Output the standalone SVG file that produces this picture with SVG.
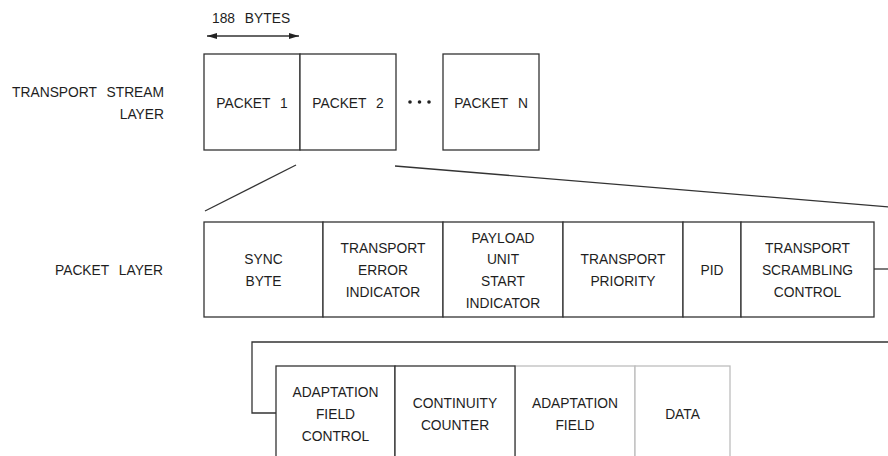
<svg xmlns="http://www.w3.org/2000/svg" width="888" height="456" viewBox="0 0 888 456">
  <style>
    text { font-family: "Liberation Sans", Arial, sans-serif; font-size: 13.8px; fill: #1e1e1e; word-spacing: 6px; }
    .c { text-anchor: middle; }
    .e { text-anchor: end; }
    .box { fill: #fff; stroke: #333; stroke-width: 1.3; }
    .gbox { fill: #fff; stroke: #bdbdbd; stroke-width: 1.3; }
    .ln { fill: none; stroke: #333; stroke-width: 1.3; }
  </style>
  <defs>
    <marker id="ah" viewBox="0 0 10 6" refX="10" refY="3" markerWidth="10" markerHeight="6" markerUnits="userSpaceOnUse" orient="auto-start-reverse">
      <path d="M0,0 L10,3 L0,6 Z" fill="#222"/>
    </marker>
  </defs>
  <rect width="888" height="456" fill="#fff"/>

  <g id="labels">
    <text class="e" x="164" y="97">TRANSPORT STREAM</text>
    <text class="e" x="164" y="119">LAYER</text>
    <text class="e" x="163" y="275">PACKET LAYER</text>
  </g>

  <g id="dimension">
    <text x="212" y="23">188 BYTES</text>
    <line class="ln" x1="207" y1="36" x2="299" y2="36" marker-start="url(#ah)" marker-end="url(#ah)"/>
  </g>

  <g id="connectors">
    <line class="ln" x1="296" y1="165" x2="205" y2="211"/>
    <line class="ln" x1="395" y1="166" x2="890" y2="207"/>
    <line class="ln" x1="874" y1="269" x2="890" y2="269"/>
    <polyline class="ln" points="890,342 252,342 252,413 276,413"/>
  </g>

  <g id="packet1"><rect class="box" x="204" y="54" width="96" height="96"/><text class="c" x="252" y="107.5">PACKET 1</text></g>
  <g id="packet2"><rect class="box" x="300" y="54" width="96" height="96"/><text class="c" x="348" y="107.5">PACKET 2</text></g>
  <g id="ellipsis">
    <circle cx="410" cy="102" r="1.8" fill="#222"/>
    <circle cx="419.5" cy="102" r="1.8" fill="#222"/>
    <circle cx="429" cy="102" r="1.8" fill="#222"/>
  </g>
  <g id="packetN"><rect class="box" x="443" y="54" width="96" height="96"/><text class="c" x="491" y="107.5">PACKET N</text></g>

  <g id="sync-byte"><rect class="box" x="204" y="222" width="119" height="95"/>
    <text class="c" x="263.5" y="264.2">SYNC</text><text class="c" x="263.5" y="285.9">BYTE</text></g>
  <g id="transport-error-indicator"><rect class="box" x="323" y="222" width="120" height="95"/>
    <text class="c" x="383" y="253.3">TRANSPORT</text><text class="c" x="383" y="275">ERROR</text><text class="c" x="383" y="296.7">INDICATOR</text></g>
  <g id="payload-unit-start-indicator"><rect class="box" x="443" y="222" width="120" height="95"/>
    <text class="c" x="503" y="242.5">PAYLOAD</text><text class="c" x="503" y="264.2">UNIT</text><text class="c" x="503" y="285.9">START</text><text class="c" x="503" y="307.5">INDICATOR</text></g>
  <g id="transport-priority"><rect class="box" x="563" y="222" width="120" height="95"/>
    <text class="c" x="623" y="264.2">TRANSPORT</text><text class="c" x="623" y="285.9">PRIORITY</text></g>
  <g id="pid"><rect class="box" x="683" y="222" width="58" height="95"/>
    <text class="c" x="712" y="275">PID</text></g>
  <g id="transport-scrambling-control"><rect class="box" x="741" y="222" width="133" height="95"/>
    <text class="c" x="807.5" y="253.3">TRANSPORT</text><text class="c" x="807.5" y="275">SCRAMBLING</text><text class="c" x="807.5" y="296.7">CONTROL</text></g>

  <g id="adaptation-field"><rect class="gbox" x="515" y="366" width="120" height="96"/>
    <text class="c" x="575" y="408">ADAPTATION</text><text class="c" x="575" y="430">FIELD</text></g>
  <g id="data"><rect class="gbox" x="635" y="366" width="95" height="96"/>
    <text class="c" x="682.5" y="419">DATA</text></g>
  <g id="adaptation-field-control"><rect class="box" x="276" y="366" width="119" height="96"/>
    <text class="c" x="335.5" y="397">ADAPTATION</text><text class="c" x="335.5" y="419">FIELD</text><text class="c" x="335.5" y="441">CONTROL</text></g>
  <g id="continuity-counter"><rect class="box" x="395" y="366" width="120" height="96"/>
    <text class="c" x="455" y="408">CONTINUITY</text><text class="c" x="455" y="430">COUNTER</text></g>
</svg>
